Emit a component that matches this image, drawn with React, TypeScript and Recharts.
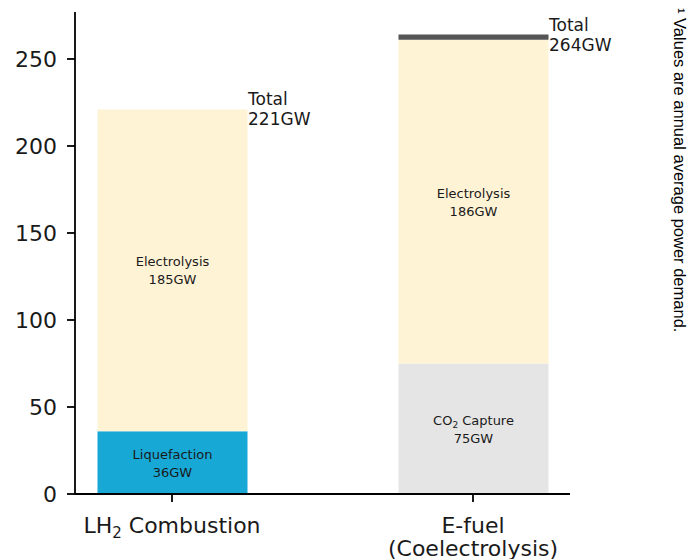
import { Bar, BarChart, LabelList, ReferenceDot, XAxis, YAxis } from 'recharts';

const CATEGORIES = ['LH2 Combustion', 'E-fuel (Coelectrolysis)'];
const LIQUEFACTION = [36, 0];
const CO2_CAPTURE = [0, 75];
const ELECTROLYSIS = [185, 186];
const OTHER = [0, 3];
const TOTALS = [221, 264];
const Y_TICKS = [0, 50, 100, 150, 200, 250];

const data = CATEGORIES.map((name, i) => ({
  name,
  liquefaction: LIQUEFACTION[i],
  co2: CO2_CAPTURE[i],
  electrolysis: ELECTROLYSIS[i],
  other: OTHER[i],
}));

const FONT = '"DejaVu Sans", sans-serif';
const TEXT = '#1a1a1a';

function CategoryTick(props: any) {
  const { x, y, payload } = props;
  const base = y + 29;
  if (payload.value === 'LH2 Combustion') {
    return (
      <text x={x} y={base} textAnchor="middle" fontSize={22} fill={TEXT} fontFamily={FONT}>
        <tspan>LH</tspan>
        <tspan fontSize={15} dy={5}>2</tspan>
        <tspan dy={-5}> Combustion</tspan>
      </text>
    );
  }
  const [first, second] = payload.value.split(' (');
  return (
    <text x={x} y={base} textAnchor="middle" fontSize={22} fill={TEXT} fontFamily={FONT}>
      <tspan x={x}>{first}</tspan>
      <tspan x={x} dy={23}>({second}</tspan>
    </text>
  );
}

function segmentLabel(title: string) {
  return (props: any) => {
    const { x, y, width, height, value } = props;
    if (!value) return null;
    const cx = x + width / 2;
    const cy = y + height / 2;
    return (
      <text x={cx} textAnchor="middle" fontSize={13} fill={TEXT} fontFamily={FONT}>
        {title === 'CO2 Capture' ? (
          <tspan x={cx} y={cy - 4}>
            CO<tspan fontSize={9} dy={3}>2</tspan>
            <tspan dy={-3}> Capture</tspan>
          </tspan>
        ) : (
          <tspan x={cx} y={cy - 4}>{title}</tspan>
        )}
        <tspan x={cx} y={cy + 14}>{value}GW</tspan>
      </text>
    );
  };
}

function TotalLabel(total: number) {
  return (p: any) => (
    <text x={p.cx + 76} fontSize={17} fill={TEXT} fontFamily={FONT}>
      <tspan x={p.cx + 76} y={p.cy - 4}>Total</tspan>
      <tspan x={p.cx + 76} y={p.cy + 16}>{total}GW</tspan>
    </text>
  );
}

export default function App() {
  return (
    <div style={{ position: 'absolute', left: 0, top: 0, width: 687, height: 559, background: '#fff', overflow: 'hidden' }}>
      <BarChart
        width={687}
        height={559}
        data={data}
        margin={{ top: 12, right: 117, bottom: 0, left: 15 }}
        style={{ fontFamily: FONT }}
      >
        <XAxis
          dataKey="name"
          type="category"
          scale="point"
          padding={{ left: 97, right: 97 }}
          height={65}
          tickSize={8}
          tick={<CategoryTick />}
          axisLine={{ stroke: '#000', strokeWidth: 1.8 }}
          tickLine={{ stroke: '#000', strokeWidth: 1.8 }}
          interval={0}
        />
        <XAxis
          xAxisId="top"
          dataKey="name"
          orientation="top"
          height={0}
          tick={false}
          tickLine={false}
          axisLine={{ stroke: '#f2f2f2' }}
        />
        <YAxis
          domain={[0, 277]}
          ticks={Y_TICKS}
          width={60}
          tickSize={8}
          tickMargin={10}
          tick={{ fontSize: 22, fill: TEXT, fontFamily: FONT }}
          axisLine={{ stroke: '#000', strokeWidth: 1.8 }}
          tickLine={{ stroke: '#000', strokeWidth: 1.8 }}
        />
        <YAxis
          yAxisId="right"
          orientation="right"
          domain={[0, 277]}
          width={0}
          tick={false}
          tickLine={false}
          axisLine={{ stroke: '#f2f2f2' }}
        />
        <Bar dataKey="liquefaction" stackId="a" fill="#17a8d6" barSize={150} isAnimationActive={false}>
          <LabelList dataKey="liquefaction" content={segmentLabel('Liquefaction')} />
        </Bar>
        <Bar dataKey="co2" stackId="a" fill="#e5e5e5" barSize={150} isAnimationActive={false}>
          <LabelList dataKey="co2" content={segmentLabel('CO2 Capture')} />
        </Bar>
        <Bar dataKey="electrolysis" stackId="a" fill="#fff3d6" barSize={150} isAnimationActive={false}>
          <LabelList dataKey="electrolysis" content={segmentLabel('Electrolysis')} />
        </Bar>
        <Bar dataKey="other" stackId="a" fill="#555555" barSize={150} isAnimationActive={false} />
        {CATEGORIES.map((c, i) => (
          <ReferenceDot key={c} x={c} y={TOTALS[i]} r={0} shape={TotalLabel(TOTALS[i])} />
        ))}
      </BarChart>
      <div
        style={{
          position: 'absolute',
          left: 670,
          top: 8,
          writingMode: 'vertical-rl',
          fontFamily: '"Liberation Sans", Arial, sans-serif',
          fontSize: 16.5,
          lineHeight: '20px',
          color: '#000',
          whiteSpace: 'nowrap',
        }}
      >
        ¹ Values are annual average power demand.
      </div>
    </div>
  );
}
